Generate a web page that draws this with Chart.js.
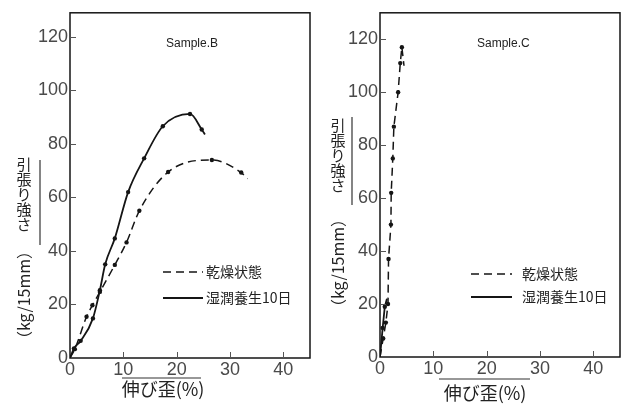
<!DOCTYPE html>
<html>
<head>
<meta charset="utf-8">
<script src="https://cdn.jsdelivr.net/npm/chart.js@4.4.1/dist/chart.umd.min.js"></script>
<style>
  html, body { margin: 0; padding: 0; background: #fff; }
  #wrap { position: relative; width: 628px; height: 406px; overflow: hidden; }
  canvas { position: absolute; top: 0; }
</style>
</head>
<body>
<div id="wrap">
  <canvas id="chartB" width="316" height="406" style="left:0px"></canvas>
  <canvas id="chartC" width="312" height="406" style="left:316px"></canvas>
</div>
<script>
// Sample.B — 乾燥状態 (dry)
const bDryX = [0, 0.9, 3.1, 4.2, 5.6, 8.4, 10.6, 13.0, 18.4, 26.6, 32.1, 33.3];
const bDryY = [0, 3.3, 15.4, 19.7, 24.7, 34.8, 43.2, 55.0, 69.5, 74.0, 69.3, 67.0];
// Sample.B — 湿潤養生10日 (wet cured 10 days)
const bWetX = [0, 0.75, 2.0, 4.3, 5.6, 6.6, 8.4, 10.9, 13.9, 17.4, 22.5, 24.7, 25.3];
const bWetY = [0, 3.6, 6.4, 14.8, 25.3, 35.0, 44.7, 62.0, 74.6, 86.6, 91.2, 85.4, 83.5];

// Sample.C
const cDryX = [0, 0.6, 1.1, 1.5, 1.6, 2.05, 2.1, 2.4, 2.6, 3.4, 3.8, 4.1, 4.5];
const cDryY = [0, 7, 13, 20, 37, 50, 62, 75, 87, 100, 111, 117, 110];
const cWetX = [0, 0.5, 0.9, 1.3];
const cWetY = [0, 11, 19, 22];

const seriesLabels = ['乾燥状態', '湿潤養生10日'];
const yTitleJa = '引張り強さ';
const yTitleUnit = '（kg/15mm）';
const xTitle = '伸び歪(%)';

const pts = (xs, ys) => xs.map((x, i) => ({ x, y: ys[i] }));
const INK = '#151515';
const TICK_FONT = { family: '"Liberation Sans Narrow", "Liberation Sans", sans-serif', size: 18, weight: 'normal' };
const JP = '"Noto Sans CJK JP", sans-serif';

// frame, inner tick marks, titles and the hand-placed legend
const paperPlugin = {
  id: 'paper',
  afterDraw(chart, args, o) {
    const { ctx, chartArea: a, scales: { x, y } } = chart;
    ctx.save();
    ctx.strokeStyle = INK;
    ctx.lineWidth = 1.5;
    ctx.strokeRect(a.left, a.top, a.right - a.left, a.bottom - a.top);

    ctx.lineWidth = 1;
    ctx.strokeStyle = '#555';
    y.ticks.forEach(t => {
      if (t.value === 0) return;
      const py = Math.round(y.getPixelForValue(t.value)) + 0.5;
      ctx.beginPath(); ctx.moveTo(a.left, py); ctx.lineTo(a.left + 6, py); ctx.stroke();
    });
    x.ticks.forEach(t => {
      if (t.value === 0) return;
      const px = Math.round(x.getPixelForValue(t.value)) + 0.5;
      ctx.beginPath(); ctx.moveTo(px, a.bottom); ctx.lineTo(px, a.bottom - 6); ctx.stroke();
    });

    ctx.fillStyle = '#222';
    ctx.textBaseline = 'middle';
    ctx.textAlign = 'left';
    ctx.font = '12px "Liberation Sans", sans-serif';
    ctx.fillText(o.sample, o.sampleX, o.sampleY);

    // vertical y title: upright kana column, overline, rotated unit
    ctx.font = '15px ' + JP;
    ctx.textAlign = 'center';
    ctx.textBaseline = 'top';
    [...yTitleJa].forEach((ch, i) => ctx.fillText(ch, o.yColX, o.yColTop + i * 15));
    ctx.strokeStyle = '#333';
    ctx.lineWidth = 1.2;
    ctx.beginPath(); ctx.moveTo(o.yLineX, o.yLineTop); ctx.lineTo(o.yLineX, o.yLineBottom); ctx.stroke();
    ctx.save();
    ctx.translate(o.yColX, o.yUnitY);
    ctx.rotate(-Math.PI / 2);
    ctx.font = '16px ' + JP;
    ctx.textBaseline = 'middle';
    ctx.fillText(yTitleUnit, 0, 0);
    ctx.restore();

    // x title with overline
    ctx.font = '18px ' + JP;
    ctx.textBaseline = 'middle';
    ctx.fillText(xTitle, o.xTitleX, o.xTitleY);
    ctx.beginPath(); ctx.moveTo(o.xLineLeft, o.xLineY); ctx.lineTo(o.xLineRight, o.xLineY); ctx.stroke();

    // legend
    ctx.textAlign = 'left';
    ctx.font = '14px ' + JP;
    chart.data.datasets.forEach((ds, i) => {
      const ly = o.legY[i];
      ctx.strokeStyle = INK;
      ctx.lineWidth = ds.borderWidth;
      ctx.setLineDash(ds.borderDash || []);
      ctx.beginPath(); ctx.moveTo(o.legX0, ly); ctx.lineTo(o.legX1, ly); ctx.stroke();
      ctx.setLineDash([]);
      ctx.fillText(ds.label, o.legTextX, ly);
    });
    ctx.restore();
  }
};

function makeDatasets(dry, wet, smooth) {
  const radius = n => c => (c.dataIndex === 0 || c.dataIndex === n - 1) ? 0 : 2.2;
  const common = {
    borderColor: INK,
    backgroundColor: INK,
    pointBorderWidth: 0,
    cubicInterpolationMode: smooth ? 'monotone' : 'default',
    tension: smooth ? 0.4 : 0
  };
  return [
    { ...common, label: seriesLabels[0], data: dry, borderWidth: 1.5, borderDash: [8, 5], pointRadius: radius(dry.length) },
    { ...common, label: seriesLabels[1], data: wet, borderWidth: 1.8, pointRadius: radius(wet.length) }
  ];
}

function makeChart(id, datasets, box, paper) {
  return new Chart(document.getElementById(id), {
    type: 'line',
    data: { datasets },
    options: {
      responsive: false,
      animation: false,
      layout: { padding: { top: box.top, right: box.right, left: 0, bottom: 0 } },
      plugins: { legend: { display: false }, tooltip: { enabled: false }, paper },
      scales: {
        x: {
          type: 'linear', min: 0, max: 45,
          grid: { display: false, drawTicks: false },
          border: { display: false },
          ticks: { stepSize: 10, includeBounds: false, padding: 1, color: '#4a4a4a', font: TICK_FONT },
          afterFit: s => { s.height = box.xh; }
        },
        y: {
          min: 0, max: box.ymax,
          grid: { display: false, drawTicks: false },
          border: { display: false },
          ticks: { stepSize: 20, includeBounds: false, padding: 2, color: '#4a4a4a', font: TICK_FONT },
          afterFit: s => { s.width = box.yw; }
        }
      }
    },
    plugins: [paperPlugin]
  });
}

makeChart('chartB', makeDatasets(pts(bDryX, bDryY), pts(bWetX, bWetY), true),
  { top: 10, right: 6, xh: 48, yw: 70, ymax: 129 },
  {
    sample: 'Sample.B', sampleX: 166, sampleY: 44,
    yColX: 24, yColTop: 157, yLineX: 40, yLineTop: 160, yLineBottom: 245, yUnitY: 295,
    xTitleX: 163, xTitleY: 389, xLineLeft: 122, xLineRight: 201, xLineY: 378,
    legX0: 163, legX1: 203, legTextX: 206, legY: [272, 298]
  });

makeChart('chartC', makeDatasets(pts(cDryX, cDryY), pts(cWetX, cWetY), false),
  { top: 5, right: 8, xh: 49, yw: 64, ymax: 130 },
  {
    sample: 'Sample.C', sampleX: 161, sampleY: 44,
    yColX: 22, yColTop: 118, yLineX: 36, yLineTop: 117, yLineBottom: 205, yUnitY: 263,
    xTitleX: 169, xTitleY: 393, xLineLeft: 123, xLineRight: 214, xLineY: 379,
    legX0: 155, legX1: 196, legTextX: 206, legY: [274, 297]
  });
</script>
</body>
</html>
